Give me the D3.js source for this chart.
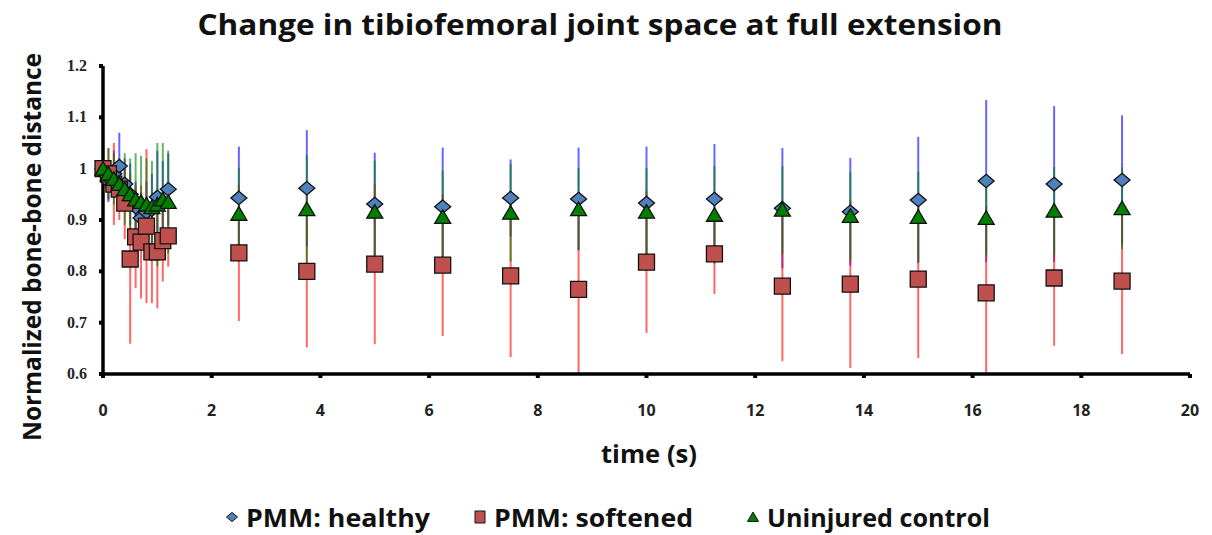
<!DOCTYPE html>
<html>
<head>
<meta charset="utf-8">
<title>Change in tibiofemoral joint space</title>
<style>
    body { margin: 0; background: #fff; }
    .axis line, .axis path { stroke: #000; }
    .ytick text { font-family: "Liberation Serif", "DejaVu Serif", serif; font-weight: bold; font-size: 16px; fill: #222; }
    .xtick text { font-family: "Open Sans", "Liberation Sans", sans-serif; font-weight: bold; font-size: 16px; fill: #222; }
    .lbl { font-family: "Open Sans", "Liberation Sans", sans-serif; font-weight: bold; fill: #111; }
</style>
</head>
<body>
<div id="chart"></div>
<script src="https://cdnjs.cloudflare.com/ajax/libs/d3/7.8.5/d3.min.js"></script>
<script>
// time points (s)
var times = [0, 0.1, 0.2, 0.3, 0.4, 0.5, 0.6, 0.7, 0.8, 0.9, 1.0, 1.1, 1.2,
             2.5, 3.75, 5, 6.25, 7.5, 8.75, 10, 11.25, 12.5, 13.75, 15, 16.25, 17.5, 18.75];

// PMM: healthy
var healthy   = [1.0, 0.975, 0.99, 1.005, 0.97, 0.95, 0.925, 0.904, 0.915, 0.92, 0.945, 0.935, 0.96,
                 0.943, 0.962, 0.931, 0.926, 0.943, 0.941, 0.933, 0.941, 0.923, 0.916, 0.939, 0.976, 0.970, 0.978];
var healthySd = [0.02, 0.04, 0.045, 0.065, 0.05, 0.06, 0.05, 0.05, 0.06, 0.07, 0.09, 0.08, 0.07,
                 0.10, 0.113, 0.10, 0.115, 0.075, 0.10, 0.11, 0.107, 0.117, 0.105, 0.123, 0.158, 0.152, 0.126];

// PMM: softened
var softened   = [1.0, 0.99, 0.97, 0.96, 0.933, 0.824, 0.867, 0.857, 0.888, 0.838, 0.838, 0.86, 0.869,
                  0.836, 0.80, 0.814, 0.812, 0.791, 0.765, 0.818, 0.834, 0.771, 0.775, 0.785, 0.758, 0.787, 0.781];
var softenedSd = [0.02, 0.05, 0.08, 0.06, 0.07, 0.165, 0.10, 0.11, 0.15, 0.10, 0.11, 0.08, 0.06,
                  0.133, 0.148, 0.156, 0.138, 0.158, 0.17, 0.138, 0.078, 0.146, 0.163, 0.154, 0.17, 0.132, 0.142];

// Uninjured control
var control   = [1.0, 0.99, 0.98, 0.97, 0.96, 0.95, 0.94, 0.935, 0.93, 0.925, 0.93, 0.94, 0.935,
                 0.912, 0.921, 0.916, 0.906, 0.914, 0.921, 0.916, 0.910, 0.92, 0.908, 0.906, 0.904, 0.918, 0.923];
var controlSd = [0.02, 0.05, 0.05, 0.05, 0.07, 0.07, 0.09, 0.09, 0.09, 0.09, 0.12, 0.11, 0.1,
                 0.09, 0.105, 0.1, 0.09, 0.095, 0.08, 0.085, 0.095, 0.085, 0.086, 0.088, 0.072, 0.085, 0.08];

var xTicks = [0, 2, 4, 6, 8, 10, 12, 14, 16, 18, 20];
var yTicks = [0.6, 0.7, 0.8, 0.9, 1, 1.1, 1.2];

var width = 1212, height = 535;
var plotLeft = 103, plotRight = 1190, plotTop = 66, plotBottom = 374;

var svg = d3.select('#chart').append('svg')
    .attr('width', width)
    .attr('height', height);

var x = d3.scaleLinear().domain([0, 20]).range([plotLeft, plotRight]);
var y = d3.scaleLinear().domain([0.6, 1.2]).range([plotBottom, plotTop]);

svg.append('defs').append('clipPath').attr('id', 'plot')
    .append('rect')
    .attr('x', plotLeft - 20).attr('y', plotTop - 20)
    .attr('width', plotRight - plotLeft + 40).attr('height', plotBottom - plotTop + 20);

var series = [
    {name: 'PMM: healthy', vals: healthy, sd: healthySd, bar: '#0000ff', fill: '#4f81bd', shape: 'diamond'},
    {name: 'PMM: softened', vals: softened, sd: softenedSd, bar: '#ff0000', fill: '#c0504d', shape: 'square'},
    {name: 'Uninjured control', vals: control, sd: controlSd, bar: '#008000', fill: '#008000', shape: 'triangle'}
];

// marker path, centred at 0,0
function shapePath(shape, s) {
    if (shape === 'diamond') return 'M0,' + (-s * 0.42) + ' L' + (s * 0.5) + ',0 L0,' + (s * 0.42) + ' L' + (-s * 0.5) + ',0Z';
    if (shape === 'square') return 'M' + (-s / 2) + ',' + (-s / 2) + ' h' + s + ' v' + s + ' h' + (-s) + 'Z';
    return 'M0,' + (-s * 0.45) + ' L' + (s * 0.5) + ',' + (s * 0.4) + ' L' + (-s * 0.5) + ',' + (s * 0.4) + 'Z';
}

// error bars
var gBars = svg.append('g').attr('clip-path', 'url(#plot)');
series.forEach(function (s) {
    gBars.selectAll(null)
        .data(times)
        .enter()
        .append('line')
        .attr('x1', function (t) { return x(t); })
        .attr('x2', function (t) { return x(t); })
        .attr('y1', function (t, i) { return y(Math.max(0.6, s.vals[i] - s.sd[i])); })
        .attr('y2', function (t, i) { return y(s.vals[i] + s.sd[i]); })
        .attr('stroke', s.bar)
        .attr('stroke-opacity', 0.6)
        .attr('stroke-width', 2);
});

// axes
var gAxis = svg.append('g').attr('class', 'axis');
gAxis.append('line')
    .attr('x1', plotLeft).attr('x2', plotLeft).attr('y1', plotTop).attr('y2', plotBottom)
    .attr('stroke-width', 3.5);
gAxis.append('line')
    .attr('x1', plotLeft).attr('x2', plotRight).attr('y1', plotBottom).attr('y2', plotBottom)
    .attr('stroke-width', 3.5);

var gy = gAxis.selectAll('g.ytick').data(yTicks).enter().append('g').attr('class', 'ytick');
gy.append('line')
    .attr('x1', plotLeft - 4).attr('x2', plotLeft)
    .attr('y1', function (d) { return y(d); }).attr('y2', function (d) { return y(d); })
    .attr('stroke-width', 4);
gy.append('text')
    .attr('x', plotLeft - 16)
    .attr('y', function (d) { return y(d) + 5; })
    .attr('text-anchor', 'end')
    .text(function (d) { return d3.format('')(d); });

var gx = gAxis.selectAll('g.xtick').data(xTicks).enter().append('g').attr('class', 'xtick');
gx.append('line')
    .attr('x1', function (d) { return x(d); }).attr('x2', function (d) { return x(d); })
    .attr('y1', plotBottom).attr('y2', plotBottom + 4)
    .attr('stroke-width', 4);
gx.append('text')
    .attr('x', function (d) { return x(d); })
    .attr('y', plotBottom + 42)
    .attr('text-anchor', 'middle')
    .text(function (d) { return d; });

// markers
series.forEach(function (s) {
    svg.append('g').selectAll(null)
        .data(times)
        .enter()
        .append('path')
        .attr('transform', function (t, i) { return 'translate(' + x(t) + ',' + y(s.vals[i]) + ')'; })
        .attr('d', shapePath(s.shape, 16))
        .attr('fill', s.fill)
        .attr('stroke', '#111')
        .attr('stroke-width', 1.3);
});

// title and labels
svg.append('text').attr('class', 'lbl')
    .attr('x', 600).attr('y', 35)
    .attr('text-anchor', 'middle')
    .attr('font-size', 29)
    .attr('textLength', 805).attr('lengthAdjust', 'spacingAndGlyphs')
    .text('Change in tibiofemoral joint space at full extension');

svg.append('text').attr('class', 'lbl')
    .attr('transform', 'translate(41,247) rotate(-90)')
    .attr('text-anchor', 'middle')
    .attr('font-size', 25)
    .attr('textLength', 388).attr('lengthAdjust', 'spacingAndGlyphs')
    .text('Normalized bone-bone distance');

svg.append('text').attr('class', 'lbl')
    .attr('x', 649).attr('y', 463)
    .attr('text-anchor', 'middle')
    .attr('font-size', 25)
    .attr('textLength', 96).attr('lengthAdjust', 'spacingAndGlyphs')
    .text('time (s)');

// legend
var legendX = [232, 480, 753];
var legendW = [184, 199, 223];
var gLeg = svg.append('g');
series.forEach(function (s, i) {
    gLeg.append('path')
        .attr('transform', 'translate(' + legendX[i] + ',517)')
        .attr('d', s.shape === 'square' ? 'M-5,-6 h10 v12 h-10Z' : shapePath(s.shape, 11))
        .attr('fill', s.fill)
        .attr('stroke', '#111')
        .attr('stroke-width', 1);
    gLeg.append('text').attr('class', 'lbl')
        .attr('x', legendX[i] + 14).attr('y', 527)
        .attr('font-size', 25)
        .attr('textLength', legendW[i]).attr('lengthAdjust', 'spacingAndGlyphs')
        .text(s.name);
});
</script>
</body>
</html>
